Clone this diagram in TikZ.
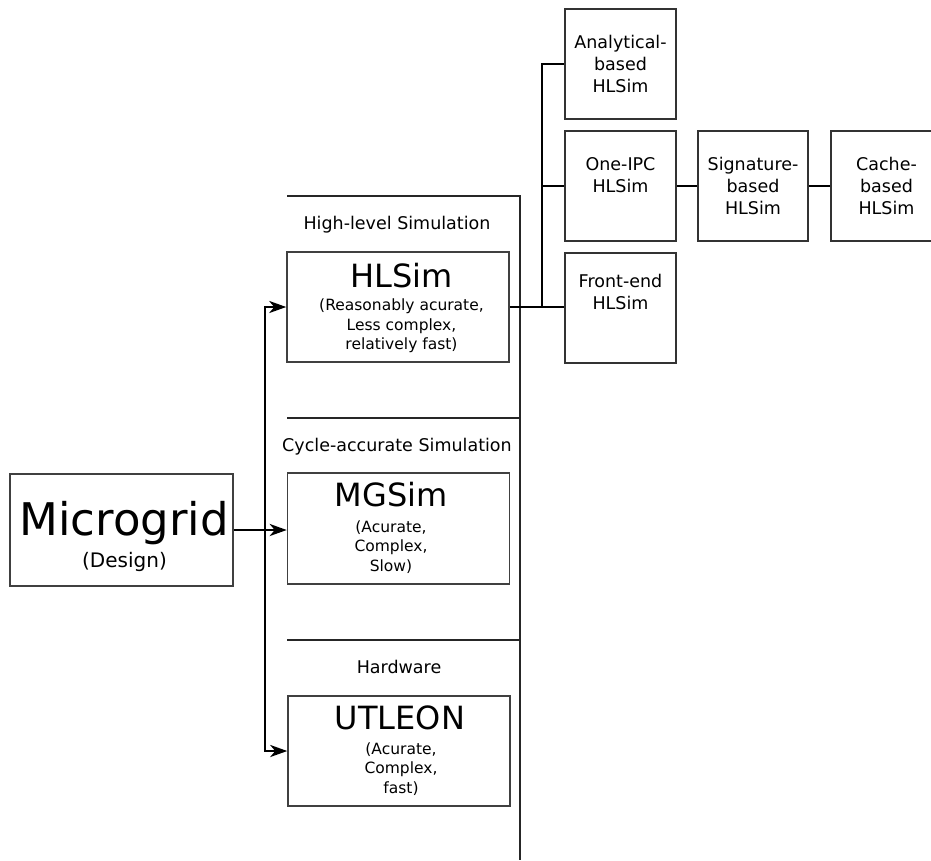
\documentclass[tikz,border=0pt]{standalone}
\usepackage{fontspec}
\setmainfont{DejaVu Sans}
\usetikzlibrary{arrows.meta}
\begin{document}
\begin{tikzpicture}[x=1pt,y=-1pt,
  box/.style={draw=black!75,line width=1.5pt,minimum width=222pt,minimum height=110pt,inner sep=0pt},
  sbox/.style={draw=black!80,line width=1.5pt,minimum width=111pt,minimum height=110pt,inner sep=0pt,align=center,font=\fontsize{17.5}{22}\selectfont},
  conn/.style={line width=2.7pt},
  arr/.style={conn,-{Stealth[length=17pt,width=12pt,inset=5pt]}},
  sec/.style={line width=1.5pt,draw=black!85},
  seclabel/.style={anchor=base,inner sep=0pt,font=\fontsize{17.5}{21}\selectfont},
  title/.style={anchor=base,inner sep=0pt,font=\fontsize{32}{36}\selectfont},
  sub/.style={inner sep=0pt,align=center,font=\fontsize{15.5}{19.5}\selectfont}
]
\useasboundingbox (0,0) rectangle (931,860);

% section dividers
\coordinate (s1l) at (287,196); \coordinate (s1r) at (520,196);
\coordinate (s2l) at (287,418); \coordinate (s2r) at (520,418);
\coordinate (s3l) at (287,640); \coordinate (s3r) at (520,640);
\coordinate (sbot) at (520,860);
\draw[sec] (s1l) -- (s1r) -- (sbot);
\draw[sec] (s2l) -- (s2r);
\draw[sec] (s3l) -- (s3r);

\node[seclabel] (lab1) at (397,229.5) {High-level Simulation};
\node[seclabel] (lab2) at (397,451) {Cycle-accurate Simulation};
\node[seclabel] (lab3) at (399,673) {Hardware};

% Microgrid
\node[box,minimum width=223pt,minimum height=112pt] (mg) at (121.5,530) {};
\node[anchor=base,inner sep=0pt,font=\fontsize{45}{50}\selectfont] (mgT) at (124,535) {Microgrid};
\node[anchor=base,inner sep=0pt,font=\fontsize{20}{24}\selectfont] (mgS) at (124.5,567) {(Design)};

% HLSim
\node[box] (hl) at (398,307) {};
\node[title] (hlT) at (401.5,287) {HLSim};
\node[sub] (hlS) at (401.5,326) {(Reasonably acurate,\\Less complex,\\relatively fast)};

% MGSim
\node[box,minimum height=111pt] (mgs) at (398.5,528.5) {};
\node[title] (mgsT) at (391,506.5) {MGSim};
\node[sub] (mgsS) at (391,547) {(Acurate,\\Complex,\\Slow)};

% UTLEON
\node[box] (ut) at (399,751) {};
\node[title] (utT) at (400,729.5) {UTLEON};
\node[sub] (utS) at (401,769) {(Acurate,\\Complex,\\fast)};

% right boxes
\node[sbox] (an) at (620.5,64) {Analytical-\\based\\HLSim};
\node[sbox] (one) at (620.5,186) {One-IPC\\HLSim\\\mbox{}};
\node[sbox] (fe) at (620.5,308) {Front-end\\HLSim\\[10pt]\mbox{}};
\node[sbox,minimum width=110pt] (sig) at (753,186) {Signature-\\based\\HLSim};
\node[sbox] (ca) at (886.5,186) {Cache-\\based\\HLSim};

% connectors left
\coordinate (busL) at (265,0);
\draw[arr] (mg.east) -- (mg.east -| mgs.west);
\draw[arr] (busL |- mg.east) |- (hl.west);
\draw[arr] (busL |- mg.east) |- (ut.west);

% connectors right
\coordinate (busR) at (542,0);
\draw[conn] (hl.east) -- (hl.east -| fe.west);
\draw[conn] (busR |- hl.east) |- (an.west);
\draw[conn] (busR |- one.west) -- (one.west);
\draw[conn] (one.east) -- (sig.west);
\draw[conn] (sig.east) -- (ca.west);
\end{tikzpicture}
\end{document}
